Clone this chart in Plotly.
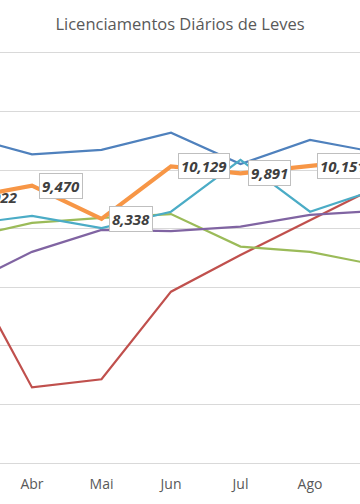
import plotly.graph_objects as go

months = ['Mar', 'Abr', 'Mai', 'Jun', 'Jul', 'Ago', 'Set']
s2019 = [11180, 10540, 10690, 11280, 10210, 11030, 10590]
s2020 = [6980, 2580, 2860, 5850, 7100, 8300, 9480]
s2021 = [7660, 8200, 8370, 8500, 7390, 7210, 6740]
s2022 = [6030, 7210, 7960, 7920, 8070, 8470, 8620]
s2023 = [8130, 8440, 8020, 8580, 10350, 8580, 9370]
s2024 = [9022, 9470, 8338, 10129, 9891, 10151, 10400]

series = [
    ('2019', s2019, '#4F81BD', 2.2),
    ('2020', s2020, '#C0504D', 2.2),
    ('2021', s2021, '#9BBB59', 2.2),
    ('2022', s2022, '#8064A2', 2.2),
    ('2023', s2023, '#4BACC6', 2.2),
    ('2024', s2024, '#F79646', 4.2),
]

fig = go.Figure()
for name, vals, color, w in series:
    fig.add_trace(go.Scatter(x=months, y=vals, name=name, mode='lines',
                             line=dict(color=color, width=w), cliponaxis=True))

label_font = dict(family='Open Sans', size=15, color='#404040', weight='bold', style='italic')
labels = [f'{v:,}' for v in s2024]

# the first month's label sits across the left edge, where a boxed annotation
# would be dropped by plotly, so it is drawn as plain trace text
fig.add_trace(go.Scatter(x=months[:1], y=s2024[:1], mode='markers+text', text=labels[:1],
                         textposition='middle right', textfont=label_font,
                         marker=dict(size=26, opacity=0), hoverinfo='skip',
                         showlegend=False))

for m, v, t in zip(months[1:], s2024[1:], labels[1:]):
    fig.add_annotation(x=m, y=v, xref='x', yref='y', text=t, showarrow=False,
                       xanchor='left', yanchor='middle', xshift=7,
                       font=label_font, bgcolor='white', bordercolor='#BFBFBF',
                       borderwidth=1, borderpad=2)

fig.update_layout(
    width=360, height=504,
    margin=dict(l=0, r=0, t=53, b=41),
    paper_bgcolor='white', plot_bgcolor='white',
    showlegend=False,
    title=dict(text='Licenciamentos Diários de Leves', x=0.5, xanchor='center',
               y=1 - 24 / 504, yanchor='middle', yref='container',
               font=dict(family='Open Sans', size=16.5, color='#595959')),
    xaxis=dict(type='category', range=[0.5396, 5.7194], showgrid=False,
               showline=True, mirror=True, linecolor='#D9D9D9', linewidth=1,
               ticks='outside', ticklen=8, tickcolor='rgba(0,0,0,0)',
               tickfont=dict(family='Open Sans', size=14, color='#595959')),
    yaxis=dict(range=[0, 14000], dtick=2000, showgrid=True, gridcolor='#D9D9D9',
               gridwidth=1, showticklabels=False, zeroline=True,
               zerolinecolor='#D9D9D9', zerolinewidth=1, showline=False),
)

fig.write_html('out.html', config={'displayModeBar': False},
               post_script="document.body.style.margin='0';document.body.style.overflow='hidden';")
